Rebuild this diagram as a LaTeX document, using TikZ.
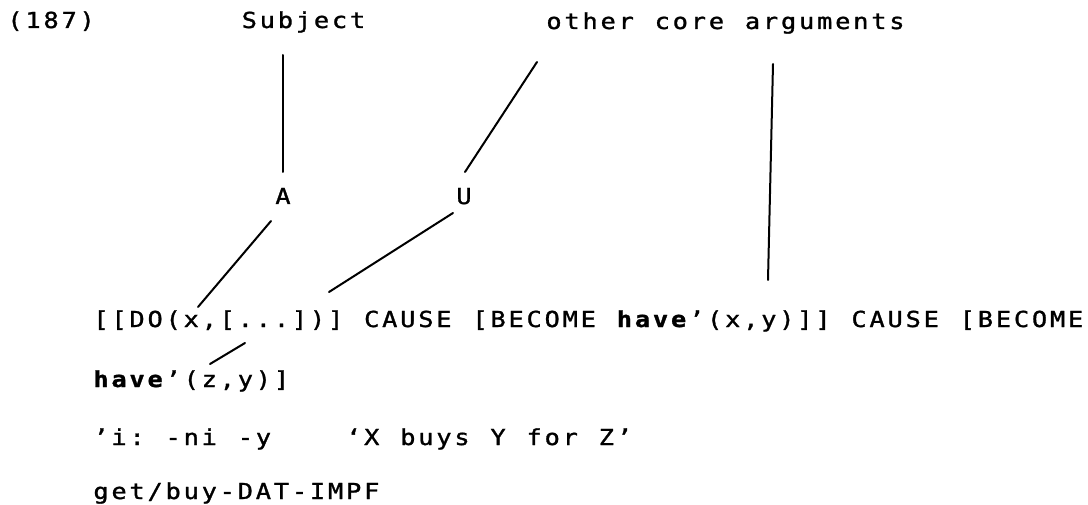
\documentclass[tikz,border=0pt]{standalone}
\usepackage{fontspec}
\newfontfamily\monofam[FakeStretch=1.15, FakeBold=1.3]{DejaVu Sans Mono}
\newlength\cw \setlength\cw{18.05pt}
\makeatletter
\def\Bmark{Bmark}\def\Nmark{Nmark}
\def\cells#1{\cellsA#1\relax}
\def\cellsA#1{\ifx\relax#1\let\cnext@\relax\else\cellsB{#1}\let\cnext@\cellsA\fi\cnext@}
\def\cellsB#1{\ifx\Bmark#1\bfseries\else\ifx\Nmark#1\mdseries\else\makebox[\cw][c]{#1}\fi\fi}
\makeatother
\tikzset{
  txt/.style={inner sep=0pt, outer sep=0pt, font=\monofam\fontsize{22}{26}\selectfont},
  conn/.style={line width=2pt, line cap=round, black}
}
\begin{document}
\begin{tikzpicture}[x=1pt,y=-1pt]
\useasboundingbox[fill=white] (0,0) rectangle (1088,505);
% header labels
\node[txt, anchor=base west] (num) at (6,28) {\cells{(187)}};
\node[txt, anchor=base] (subj) at (303.5,28) {\cells{Subject}};
\node[txt, anchor=base] (other) at (725.5,29) {\cells{other~core~arguments}};
\node[txt, anchor=base] (A) at (283,204) {\cells{A}};
\node[txt, anchor=base] (U) at (464,204) {\cells{U}};
% text lines
\node[txt, anchor=base west] (l1) at (92,327) {\cells{[[DO(x,[...])]~CAUSE~[BECOME~\Bmark have\Nmark’(x,y)]]~CAUSE~[BECOME}};
\node[txt, anchor=base west] (l2) at (92,387) {\cells{\Bmark have\Nmark’(z,y)]}};
\node[txt, anchor=base west] (l3) at (92,445) {\cells{’i:~-ni~-y}};
\node[txt, anchor=base west] (l3b) at (344.7,445) {\cells{‘X~buys~Y~for~Z’}};
\node[txt, anchor=base west] (l4) at (92,499) {\cells{get/buy-DAT-IMPF}};
% connector end points
\coordinate (s1) at (283,55);   \coordinate (s2) at (283,172);
\coordinate (o1) at (537,62);   \coordinate (o2) at (465,172);
\coordinate (r1) at (773,64);   \coordinate (r2) at (768,280);
\coordinate (a1) at (271,221);  \coordinate (a2) at (198,307);
\coordinate (u1) at (453,213);  \coordinate (u2) at (329,292);
\coordinate (z1) at (245,343);  \coordinate (z2) at (210,364);
% connectors
\draw[conn] (s1) -- (s2);
\draw[conn] (o1) -- (o2);
\draw[conn] (r1) -- (r2);
\draw[conn] (a1) -- (a2);
\draw[conn] (u1) -- (u2);
\draw[conn] (z1) -- (z2);
\end{tikzpicture}
\end{document}
